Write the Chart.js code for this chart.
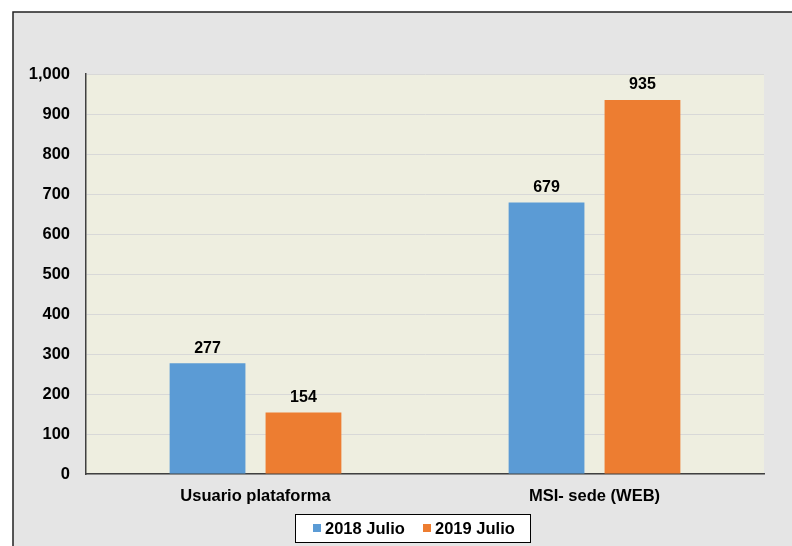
<!DOCTYPE html>
<html>
<head>
<meta charset="utf-8">
<script src="https://cdn.jsdelivr.net/npm/chart.js@4/dist/chart.umd.min.js"></script>
<style>
html,body{margin:0;padding:0;background:#fff;}
#wrap{width:792px;height:546px;position:relative;}
</style>
</head>
<body>
<div id="wrap"><canvas id="c" width="792" height="546"></canvas></div>
<script>
const categories = ["Usuario plataforma", "MSI- sede (WEB)"];
const seriesNames = ["2018 Julio", "2019 Julio"];
const values2018 = [277, 679];
const values2019 = [154, 935];
const colors = ["#5b9bd5", "#ed7d31"];

const FONT = "'Liberation Sans', Arial, sans-serif";

const bgPlugin = {
  id: 'bg',
  beforeDraw(chart) {
    const ctx = chart.ctx;
    ctx.save();
    ctx.fillStyle = '#ffffff';
    ctx.fillRect(0, 0, chart.width, chart.height);
    ctx.fillStyle = '#e5e5e5';
    ctx.fillRect(13, 12, chart.width - 13, chart.height - 12);
    ctx.strokeStyle = '#222222';
    ctx.lineWidth = 1.5;
    ctx.beginPath();
    ctx.moveTo(13, chart.height + 2);
    ctx.lineTo(13, 12);
    ctx.lineTo(chart.width + 2, 12);
    ctx.stroke();
    const a = chart.chartArea;
    ctx.fillStyle = '#eeeee0';
    ctx.fillRect(a.left, a.top, a.right - a.left, a.bottom - a.top);
    ctx.restore();
  }
};

const labelPlugin = {
  id: 'vals',
  afterDatasetsDraw(chart) {
    const ctx = chart.ctx;
    ctx.save();
    ctx.font = "bold 16px " + FONT;
    ctx.fillStyle = '#000';
    ctx.textAlign = 'center';
    ctx.textBaseline = 'bottom';
    chart.data.datasets.forEach((ds, i) => {
      chart.getDatasetMeta(i).data.forEach((bar, j) => {
        ctx.fillText(String(ds.data[j]), bar.x, bar.y - 7);
      });
    });
    ctx.restore();
  }
};

const legendPlugin = {
  id: 'customLegend',
  afterDraw(chart) {
    const ctx = chart.ctx;
    ctx.save();
    const x0 = 295, y0 = 514, w = 235, h = 28;
    ctx.fillStyle = '#ffffff';
    ctx.fillRect(x0, y0, w, h);
    ctx.strokeStyle = '#000';
    ctx.lineWidth = 1;
    ctx.strokeRect(x0 + 0.5, y0 + 0.5, w, h);
    ctx.font = "bold 16.5px " + FONT;
    ctx.textBaseline = 'middle';
    ctx.textAlign = 'left';
    const cy = y0 + h / 2 + 1;
    const starts = [313, 423];
    chart.data.datasets.forEach((ds, i) => {
      const sx = starts[i];
      ctx.fillStyle = ds.backgroundColor;
      ctx.fillRect(sx, cy - 5, 8, 8);
      ctx.fillStyle = '#000';
      ctx.fillText(ds.label, sx + 12, cy);
    });
    ctx.restore();
  }
};

new Chart(document.getElementById('c'), {
  type: 'bar',
  data: {
    labels: categories,
    datasets: [
      { label: seriesNames[0], data: values2018, backgroundColor: colors[0] },
      { label: seriesNames[1], data: values2019, backgroundColor: colors[1] }
    ]
  },
  options: {
    responsive: false,
    animation: false,
    devicePixelRatio: 1,
    layout: { padding: { left: 0, top: 74, right: 28, bottom: 0 } },
    datasets: { bar: { categoryPercentage: 0.566, barPercentage: 0.79 } },
    plugins: { legend: { display: false }, tooltip: { enabled: false } },
    scales: {
      x: {
        grid: { display: false, drawTicks: false },
        border: { display: true, color: '#404040', width: 1.5 },
        ticks: { color: '#000', font: { family: FONT, size: 16.5, weight: 'bold' }, padding: 13 },
        afterFit(s) { s.height = 72; }
      },
      y: {
        min: 0, max: 1000,
        ticks: {
          stepSize: 100, color: '#000', padding: 16,
          font: { family: FONT, size: 16.5, weight: 'bold' },
          callback: v => v.toLocaleString('en-US')
        },
        grid: { color: '#d8d8d8', lineWidth: 1, drawTicks: false },
        border: { display: true, color: '#404040', width: 1.5 },
        afterFit(s) { s.width = 86; }
      }
    }
  },
  plugins: [bgPlugin, labelPlugin, legendPlugin]
});
</script>
</body>
</html>
